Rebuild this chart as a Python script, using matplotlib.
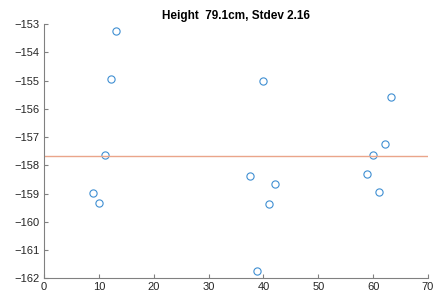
import numpy as np
import matplotlib.pyplot as plt

plt.rcParams['font.family'] = ['Liberation Sans', 'DejaVu Sans']

# sample index vs. measured value
xs = [13.2, 12.2, 39.9, 63.3, 62.2, 11.1, 8.9, 10.0, 37.6, 42.1, 41.0, 38.8, 58.9, 60.0, 61.1]
ys = [-153.25, -154.94, -155.02, -155.57, -157.26, -157.64, -158.99, -159.32,
      -158.38, -158.67, -159.36, -161.73, -158.30, -157.62, -158.94]
title = 'Height  79.1cm, Stdev 2.16'

fig = plt.figure(figsize=(4.36, 3.01), dpi=100)
ax = fig.add_axes([0.101, 0.0754, 0.8807, 0.8446])

ax.plot(xs, ys, 'o', mfc='none', mec='#3f8fd2', ms=5.2, mew=0.8)
ax.plot([0, 70], [np.mean(ys)] * 2, color='#eaa58a', lw=1.0)

ax.set_xlim(0, 70)
ax.set_ylim(-162, -153)
ax.set_xticks(np.arange(0, 71, 10))
ax.set_yticks(np.arange(-162, -152, 1))
ax.set_title(title, fontsize=8.5, fontweight='bold', pad=4)

for s in ['top', 'right']:
    ax.spines[s].set_visible(False)
for s in ['left', 'bottom']:
    ax.spines[s].set_color('#808080')
    ax.spines[s].set_linewidth(0.8)
ax.tick_params(direction='in', length=3, width=0.8, color='#808080',
               labelsize=8, labelcolor='#262626', pad=3)

fig.savefig('out.png', dpi=100)
